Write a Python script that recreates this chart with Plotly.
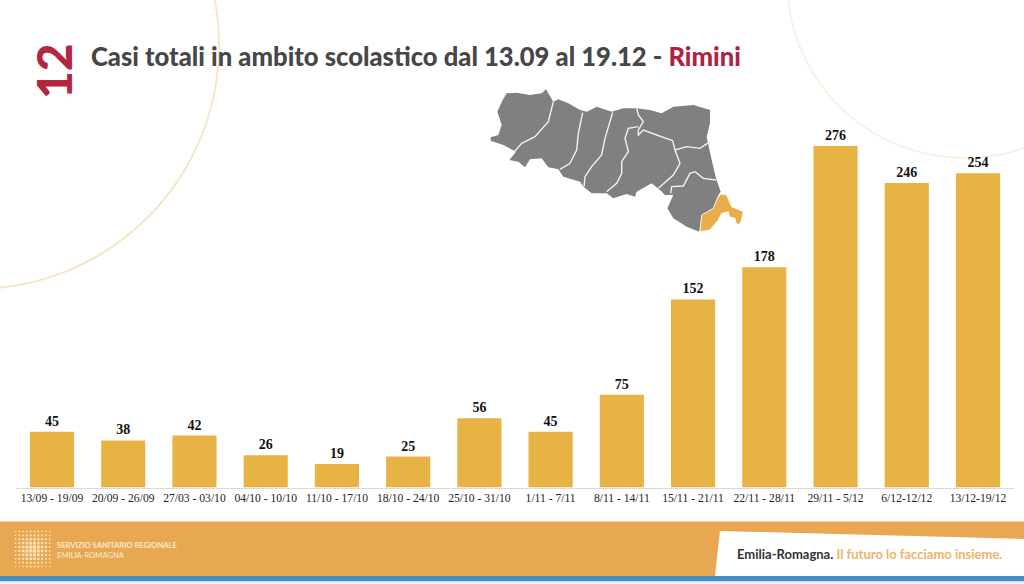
import plotly.graph_objects as go
import math

categories = ["13/09 - 19/09", "20/09 - 26/09", "27/03 - 03/10", "04/10 - 10/10", "11/10 - 17/10",
              "18/10 - 24/10", "25/10 - 31/10", "1/11 - 7/11", "8/11 - 14/11", "15/11 - 21/11",
              "22/11 - 28/11", "29/11 - 5/12", "6/12-12/12", "13/12-19/12"]
values = [45, 38, 42, 26, 19, 25, 56, 45, 75, 152, 178, 276, 246, 254]

W, H = 1024, 584
def X(p): return p / W
def Y(p): return 1 - p / H
def mapxy(zx, zy): return 480 + zx / 3, 80 + zy / 3
def path(points, close=False):
    s = "M " + " L ".join(f"{X(x):.5f},{Y(y):.5f}" for x, y in points)
    return s + (" Z" if close else "")
def mpath(pts, close=False):
    return path([mapxy(*p) for p in pts], close)

region = [(32,172),(55,165),(65,135),(52,95),(68,60),(80,40),(110,38),(150,45),(185,40),(198,28),(220,65),
          (235,58),(265,70),(300,90),(320,95),(350,80),(395,95),(430,85),(470,85),(510,90),(545,100),(580,80),
          (640,75),(690,90),(690,130),(680,170),(695,240),(708,295),(722,335),(715,345),(700,385),(665,405),
          (658,455),(620,440),(580,415),(562,385),(580,345),(555,345),(540,330),(515,310),(470,335),(465,350),
          (440,342),(400,355),(380,340),(335,340),(310,320),(300,305),(250,290),(235,268),(205,262),(185,235),
          (150,238),(135,262),(115,245),(88,240),(108,215),(70,195),(32,182)]
borders = [
    [(220,65),(205,125),(165,170),(125,190),(100,218)],
    [(308,98),(295,160),(290,210),(270,250),(240,268)],
    [(398,97),(375,175),(365,225),(335,260),(315,290),(312,320)],
    [(470,85),(475,105),(490,125),(475,150),(475,165),(490,150),(530,165),(578,182),(585,210),(600,250),(580,285),(535,325)],
    [(475,140),(445,145),(435,175),(445,215),(425,245),(425,280),(410,310),(380,335)],
    [(585,210),(620,200),(660,205),(690,185)],
    [(572,340),(575,320),(610,318),(630,280),(645,275),(670,295),(708,300)],
]
rimini = [(722,342),(740,345),(755,380),(790,395),(785,420),(778,435),(768,430),(765,415),(748,410),(745,395),
          (725,400),(715,420),(690,450),(660,455),(665,405),(700,385),(712,355)]

shapes = []
def circle(cx, cy, r, color, width):
    shapes.append(dict(type="circle", xref="paper", yref="paper", layer="below",
                       x0=X(cx - r), x1=X(cx + r), y0=Y(cy + r), y1=Y(cy - r),
                       line=dict(color=color, width=width), fillcolor="rgba(0,0,0,0)"))
def rect(x0, y0, x1, y1, color):
    shapes.append(dict(type="rect", xref="paper", yref="paper", layer="below",
                       x0=X(x0), x1=X(x1), y0=Y(y1), y1=Y(y0), line=dict(width=0), fillcolor=color))
def poly(d, fill, line="rgba(0,0,0,0)", width=0):
    shapes.append(dict(type="path", xref="paper", yref="paper", layer="below", path=d,
                       fillcolor=fill, line=dict(color=line, width=width)))

circle(-25, 45, 244, "#F6E6C8", 2)
circle(965, -20, 178, "#FAF0E4", 2)

poly(mpath(region, True), "#808080")
for b in borders:
    poly(mpath(b), "rgba(0,0,0,0)", "#F2F2F2", 1.4)
poly(mpath(rimini, True), "#E9AE4B", "#FFFFFF", 0.8)

rect(0, 521.5, W, 576, "#E8A852")
rect(0, 576, W, 581.5, "#4B8CC6")
rect(0, 581.5, W, H, "#EAF5FA")
poly(path([(720, 531), (W, 539), (W, 576), (715, 576)], True), "#FFFFFF")

# logo dots
d = ""
n = 10
for i in range(n):
    for j in range(n):
        cx, cy = 15.5 + i * 3.8, 531.5 + j * 3.9
        rr = 0.55 + 1.15 * max(0, 1 - math.hypot(i - 4.5, j - 4.5) / 6.2)
        d += path([(cx - rr, cy - rr), (cx + rr, cy - rr), (cx + rr, cy + rr), (cx - rr, cy + rr)], True) + " "
poly(d, "#FBE3BE")

ann = []
def text(x, y, t, size, color, family="Lato", anchor="left", angle=0, weight="normal"):
    ann.append(dict(xref="paper", yref="paper", x=X(x), y=Y(y), text=t, showarrow=False, xanchor=anchor,
                    yanchor="middle", textangle=angle, font=dict(family=family, size=size, color=color, weight=weight)))

text(89, 56, "Casi totali in ambito scolastico dal 13.09 al 19.12 - <span style='color:#AE2440'>Rimini</span>",
     25.6, "#474747", "Lato Black, Lato", weight=900)
text(54, 71, "12", 48, "#B3263F", "Lato Black, Lato", "center", -90, weight=900)
text(55, 545, "<b>SERVIZIO SANITARIO REGIONALE</b>", 7.6, "#FCE8CC", "Lato")
text(55, 555, "EMILIA-ROMAGNA", 7.6, "#FCE8CC", "Lato")
text(735, 554, "<b>Emilia-Romagna. <span style='color:#EDB46A'>Il futuro lo facciamo insieme.</span></b>",
     13, "#333333", "Lato")

base, top, unit = 487.5, 100.0, 341.5 / 276

fig = go.Figure(go.Bar(
    x=categories, y=values, marker=dict(color="#E8B345", line=dict(width=0)),
    text=values, textposition="outside", cliponaxis=False,
    textfont=dict(family="Liberation Serif", size=14, color="#111111", weight="bold"),
    hoverinfo="skip"))
fig.update_layout(
    width=W, height=H, autosize=False, margin=dict(l=0, r=0, t=0, b=0),
    paper_bgcolor="white", plot_bgcolor="rgba(0,0,0,0)", showlegend=False, bargap=0.38,
    shapes=shapes, annotations=ann,
    xaxis=dict(domain=[X(16.4), X(1013.6)], type="category", showgrid=False, showline=True, linecolor="#DADADA",
               linewidth=1, ticks="", tickangle=0, tickfont=dict(family="Liberation Serif", size=11.6, color="#222222")),
    yaxis=dict(domain=[Y(base), Y(top)], range=[0, (base - top) / unit], visible=False),
)
fig.write_html("out.html", config=dict(displayModeBar=False),
               post_script="document.body.style.margin='0';document.body.style.overflow='hidden';")
